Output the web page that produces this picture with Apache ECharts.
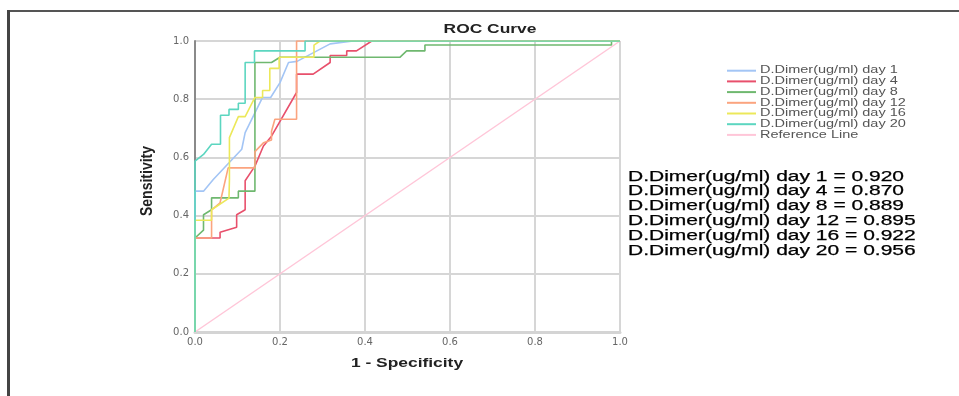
<!DOCTYPE html>
<html><head><meta charset="utf-8">
<script src="https://cdn.jsdelivr.net/npm/echarts@6/dist/echarts.min.js"></script>
<style>html,body{margin:0;padding:0;background:#fff}#c{width:959px;height:396px}</style>
</head><body><div id="c"></div>
<script>
const seriesNames = ['D.Dimer(ug/ml) day 1','D.Dimer(ug/ml) day 4','D.Dimer(ug/ml) day 8','D.Dimer(ug/ml) day 12','D.Dimer(ug/ml) day 16','D.Dimer(ug/ml) day 20'];
const refName = 'Reference Line';
const aucValues = ['0.920','0.870','0.889','0.895','0.922','0.956'];
const ticks = [0,0.2,0.4,0.6,0.8,1.0];
const day1 = [[0,0],[0,0.484],[0.02,0.484],[0.043,0.524],[0.11,0.628],[0.118,0.685],[0.159,0.806],[0.178,0.806],[0.2,0.857],[0.22,0.926],[0.24,0.93],[0.318,0.99],[0.372,1],[1,1]];
const day4 = [[0,0],[0,0.323],[0.059,0.323],[0.059,0.343],[0.098,0.36],[0.098,0.403],[0.118,0.42],[0.118,0.52],[0.141,0.57],[0.161,0.639],[0.18,0.673],[0.239,0.823],[0.239,0.886],[0.278,0.886],[0.318,0.926],[0.318,0.95],[0.357,0.95],[0.357,0.966],[0.38,0.966],[0.416,1],[1,1]];
const day8 = [[0,0],[0,0.323],[0.02,0.35],[0.02,0.403],[0.039,0.42],[0.039,0.461],[0.102,0.461],[0.102,0.484],[0.141,0.484],[0.141,0.926],[0.18,0.926],[0.2,0.944],[0.482,0.944],[0.498,0.966],[0.541,0.966],[0.541,0.986],[0.98,0.986],[0.98,1],[1,1]];
const day12 = [[0,0],[0,0.323],[0.039,0.323],[0.039,0.42],[0.059,0.444],[0.078,0.564],[0.141,0.564],[0.141,0.62],[0.161,0.65],[0.18,0.66],[0.18,0.69],[0.188,0.731],[0.239,0.731],[0.239,1],[1,1]];
const day16 = [[0,0],[0,0.384],[0.039,0.384],[0.039,0.42],[0.08,0.46],[0.081,0.524],[0.081,0.668],[0.102,0.74],[0.118,0.74],[0.141,0.806],[0.159,0.806],[0.159,0.83],[0.176,0.83],[0.176,0.906],[0.198,0.906],[0.198,0.944],[0.28,0.944],[0.28,0.986],[0.294,1],[1,1]];
const day20 = [[0,0],[0,0.587],[0.02,0.61],[0.039,0.645],[0.06,0.645],[0.06,0.745],[0.08,0.745],[0.08,0.765],[0.102,0.765],[0.102,0.786],[0.118,0.786],[0.118,0.926],[0.14,0.926],[0.14,0.966],[0.259,0.966],[0.259,1],[1,1]];
const refLine = [[0,0],[1,1]];

const colors = ['#a3c5f5','#e8506c','#6fb86f','#fba47f','#ece85a','#5cd6c0'];
const refColor = '#ffc6d8';
const curves = [day1,day4,day8,day12,day16,day20];
const FONT = '"Liberation Sans", Arial, sans-serif';
const SX = 1.45;

const chart = echarts.init(document.getElementById('c'), null, {renderer:'canvas'});
const series = [{name:refName,type:'line',data:refLine,showSymbol:false,lineStyle:{color:refColor,width:1.5},itemStyle:{color:refColor},z:1}];
curves.forEach((d,i)=>series.push({name:seriesNames[i],type:'line',data:d,showSymbol:false,lineStyle:{color:colors[i],width:1.6},itemStyle:{color:colors[i]},z:2+i}));

function stext(x,y,text,size,weight,fill,align,sx,strokeW){
  const st = {text:text,fontSize:size,fontWeight:weight||'normal',fontFamily:FONT,fill:fill,align:align||'left',verticalAlign:'middle'};
  if(strokeW){st.stroke=fill;st.lineWidth=strokeW;}
  return {type:'text',x:x,y:y,scaleX:sx||SX,silent:true,style:st};
}
const g = [
  {type:'rect',shape:{x:7,y:10,width:952,height:2},style:{fill:'#555'}},
  {type:'rect',shape:{x:7,y:10,width:3,height:386},style:{fill:'#444'}},
  stext(490,30,'ROC Curve',12,'bold','#222','center'),
  stext(407,364,'1 - Specificity',12,'bold','#222','center'),
  {type:'text',x:148,y:181,rotation:Math.PI/2,scaleY:1.15,silent:true,
    style:{text:'Sensitivity',fontSize:14,fontWeight:'bold',fontFamily:FONT,fill:'#222',align:'center',verticalAlign:'middle'}}
];
const legendNames = seriesNames.concat([refName]);
const legendColors = colors.concat([refColor]);
legendNames.forEach((n,i)=>{
  const y = 70.7 + i*10.7;
  g.push({type:'line',shape:{x1:727,y1:y,x2:756,y2:y},style:{stroke:legendColors[i],lineWidth:2}});
  g.push(stext(760,y,n,10,'normal','#555','left'));
});
seriesNames.forEach((n,i)=>g.push(stext(628,176.7+i*14.85,n+' = '+aucValues[i],14,'normal','#000','left',1.5,0.25)));

chart.setOption({
  animation:false,
  grid:{left:195,right:339,top:41,bottom:64,containLabel:false},
  xAxis:{type:'value',min:0,max:1,interval:0.2,
    axisLine:{show:true,lineStyle:{color:'#d4d4d4',width:3}},axisTick:{show:false},
    axisLabel:{formatter:v=>v.toFixed(1),fontSize:10,color:'#666',margin:5,fontFamily:'"DejaVu Sans", sans-serif'},
    splitLine:{show:true,lineStyle:{color:'#d6d6d6',width:2}}},
  yAxis:{type:'value',min:0,max:1,interval:0.2,
    axisLine:{show:true,lineStyle:{color:'#8a8a8a',width:2}},axisTick:{show:false},
    axisLabel:{formatter:v=>v.toFixed(1),fontSize:10,color:'#666',margin:6,fontFamily:'"DejaVu Sans", sans-serif'},
    splitLine:{show:true,lineStyle:{color:'#d6d6d6',width:2}}},
  graphic:g,
  series:series
});
</script></body></html>
